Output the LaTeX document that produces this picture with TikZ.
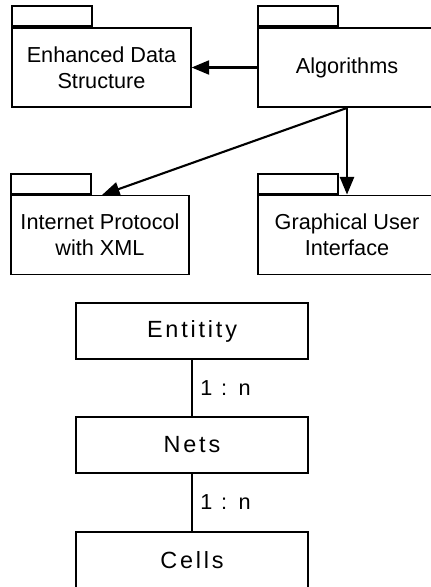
\documentclass[tikz,border=0pt]{standalone}
\usepackage{fontspec}
\setmainfont{Liberation Sans}
\newfontfamily\widefont[LetterSpace=12]{Liberation Sans}
\usetikzlibrary{arrows.meta}

\tikzset{
    pkg/.style={draw, line width=1.6pt, minimum width=5.35cm, minimum height=2.37cm,
        align=center, font=\fontsize{18.5}{22.5}\selectfont},
    pkgtab/.style={draw, line width=1.6pt, minimum width=2.4cm, minimum height=0.6cm,
        anchor=south west, inner sep=0pt},
    entbox/.style={draw, line width=1.6pt, minimum width=6.96cm, minimum height=1.7cm,
        font=\widefont\fontsize{20}{22}\selectfont},
    rel/.style={line width=1.8pt},
    dep/.style={line width=1.8pt, -{Triangle[length=15pt,width=12pt]}},
}

\begin{document}
\begin{tikzpicture}[x=0.03cm, y=-0.03cm]
        \clip (0,0) rectangle (431,587);
        %! --- Packages ---
        \node[pkg] (eds)  at (101.5,67.5) {Enhanced Data\\Structure};
        \node[pkg] (algo) at (347,67.5)   {Algorithms};
        \node[pkg] (ipx)  at (100,235)    {Internet Protocol\\with XML};
        \node[pkg] (gui)  at (347,235)    {Graphical User\\Interface};
        % Package tabs
        \foreach \p in {eds,algo,ipx,gui} {
            \node[pkgtab] (\p tab) at (\p.north west) {};
        }
        % Dependencies
        \coordinate (ipin) at (102,195);
        \draw[dep] (algo.west) -- (eds.east);
        \draw[dep] (algo.south) -- (ipin);
        \draw[dep] (algo.south) -- (gui.north);
        %! --- Entities ---
        \node[entbox] (entity) at (192,331) {Entitity};
        \node[entbox] (nets)   at (192,445) {Nets};
        \node[entbox] (cells)  at (192,560) {Cells};
        % Relations and labels
        \draw[rel] (entity.south) -- node[right=3pt, font=\widefont\fontsize{18.5}{20}\selectfont] (rel1) {1 : n} (nets.north);
        \draw[rel] (nets.south) -- node[right=3pt, font=\widefont\fontsize{18.5}{20}\selectfont] (rel2) {1 : n} (cells.north);
    \end{tikzpicture}
\end{document}
